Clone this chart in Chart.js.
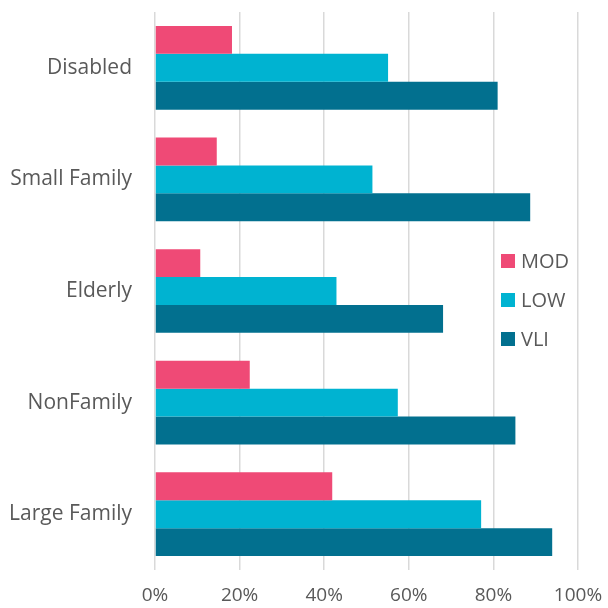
<!DOCTYPE html>
<html>
<head>
<meta charset="utf-8">
<script src="https://cdn.jsdelivr.net/npm/chart.js@4.4.1/dist/chart.umd.min.js"></script>
<style>
  html, body { margin: 0; padding: 0; background: #fff; }
  #wrap { position: relative; width: 608px; height: 608px; }
  #legend { position: absolute; left: 501px; top: 241px; font-family: 'Open Sans', sans-serif; font-size: 20px; color: #595959; }
  #legend div { height: 39px; display: flex; align-items: center; }
  #legend span.sw { display: inline-block; width: 14px; height: 14px; margin-right: 6px; }
</style>
</head>
<body>
<div id="wrap">
  <canvas id="chart" width="608" height="608"></canvas>
  <div id="legend"></div>
</div>
<script>
// Categories and series (percent)
const categories = ['Disabled', 'Small Family', 'Elderly', 'NonFamily', 'Large Family'];
const modValues = [18.2, 14.6, 10.7, 22.4, 41.9];
const lowValues = [55.1, 51.4, 42.9, 57.4, 77.1];
const vliValues = [81.0, 88.7, 68.1, 85.2, 93.9];
const seriesNames = ['MOD', 'LOW', 'VLI'];
const seriesColors = ['#EF4A76', '#00B3D1', '#02708F'];
const xTicks = [0, 20, 40, 60, 80, 100];

const font = "'Open Sans', sans-serif";
Chart.defaults.font.family = font;
Chart.defaults.color = '#595959';

const seriesData = [modValues, lowValues, vliValues];

function noPad(axis) {
    axis.paddingTop = 0;
    axis.paddingBottom = 0;
    axis.paddingLeft = 0;
    axis.paddingRight = 0;
}

new Chart(document.getElementById('chart'), {
    type: 'bar',
    data: {
        labels: categories,
        datasets: seriesNames.map((name, i) => ({
            label: name,
            data: seriesData[i],
            backgroundColor: seriesColors[i],
            borderWidth: 0,
            categoryPercentage: 0.75,
            barPercentage: 1.0
        }))
    },
    options: {
        indexAxis: 'y',
        responsive: false,
        animation: false,
        layout: { padding: { top: 12, right: 30, left: 0, bottom: 0 } },
        plugins: {
            legend: { display: false },
            tooltip: { enabled: false }
        },
        scales: {
            x: {
                min: 0,
                max: 100,
                afterBuildTicks: axis => { axis.ticks = xTicks.map(v => ({ value: v })); },
                afterFit: axis => { axis.height = 38; noPad(axis); },
                grid: { color: '#D9D9D9', lineWidth: 1.5, drawTicks: false },
                border: { display: false },
                ticks: {
                    padding: 14,
                    font: { size: 19 },
                    callback: v => v + '%'
                }
            },
            y: {
                afterFit: axis => { axis.width = 155; noPad(axis); },
                grid: { display: false, drawTicks: false },
                border: { display: false },
                ticks: { padding: 23, font: { size: 21 } }
            }
        }
    }
});

// Legend overlay
const legend = document.getElementById('legend');
seriesNames.forEach((name, i) => {
    const row = document.createElement('div');
    row.innerHTML = '<span class="sw" style="background:' + seriesColors[i] + '"></span>' + name;
    legend.appendChild(row);
});
</script>
</body>
</html>
